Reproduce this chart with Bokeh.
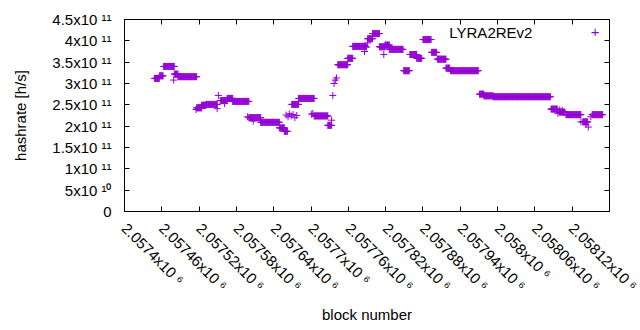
import math
import numpy as np
from bokeh.plotting import figure
from bokeh.models import (Range1d, FixedTicker, LinearAxis, Label,
                          ColumnDataSource, CustomJSTickFormatter)
from bokeh.embed import file_html
from bokeh.resources import INLINE

# ---- data (hashrate in units of 1e11 h/s) ----
# runs of consecutive blocks sharing the same hashrate estimate
run_start = [2057448, 2057456, 2057463, 2057480, 2057486, 2057516, 2057524, 2057531,
             2057554, 2057565, 2057574, 2057600, 2057619, 2057649, 2057657, 2057669,
             2057680, 2057705, 2057727, 2057743, 2057759, 2057767, 2057791, 2057799,
             2057810, 2057819, 2057826, 2057849, 2057859, 2057870, 2057880, 2057894,
             2057903, 2057917, 2057924, 2057971, 2057978, 2057993, 2058086, 2058099,
             2058110, 2058137, 2058152]
run_end = [2057456, 2057462, 2057480, 2057486, 2057516, 2057524, 2057531, 2057549,
           2057565, 2057574, 2057600, 2057619, 2057649, 2057657, 2057662, 2057680,
           2057705, 2057727, 2057733, 2057759, 2057767, 2057788, 2057799, 2057810,
           2057819, 2057826, 2057848, 2057858, 2057870, 2057878, 2057893, 2057902,
           2057917, 2057923, 2057969, 2057978, 2057993, 2058085, 2058096, 2058108,
           2058134, 2058145, 2058169]
run_hashrate = [3.12, 3.18, 3.40, 3.22, 3.16, 2.43, 2.49, 2.51,
                2.60, 2.65, 2.58, 2.20, 2.09, 1.96, 1.88, 2.51,
                2.65, 2.24, 2.02, 3.44, 3.59, 3.87, 4.05, 4.17,
                3.86, 3.90, 3.80, 3.30, 3.68, 3.59, 4.03, 3.73,
                3.57, 3.36, 3.30, 2.75, 2.71, 2.69, 2.40, 2.33,
                2.27, 2.10, 2.27]

# individual blocks
point_block = [2057479, 2057515, 2057549, 2057551, 2057561, 2057598, 2057607,
               2057660, 2057663, 2057665, 2057668, 2057671, 2057674, 2057677,
               2057701, 2057703, 2057733, 2057735, 2057737, 2057739, 2057741,
               2057786, 2057789, 2057791, 2057817, 2058097, 2058100, 2058104,
               2058134, 2058142, 2058146, 2058150]
point_hashrate = [3.08, 2.39, 2.41, 2.72, 2.53, 2.22, 2.12,
                  2.26, 2.22, 2.29, 2.24, 2.27, 2.20, 2.25,
                  2.28, 2.30, 2.14, 2.72, 3.00, 3.08, 3.13,
                  3.75, 3.85, 3.95, 3.68, 2.30, 2.38, 2.37,
                  2.10, 2.04, 1.98, 2.22]

series_name = "LYRA2REv2"

x_ticks = [2057400, 2057460, 2057520, 2057580, 2057640, 2057700, 2057760,
           2057820, 2057880, 2057940, 2058000, 2058060, 2058120, 2058180]
x_tick_labels = ["2.0574x10 \u2076", "2.05746x10 \u2076", "2.05752x10 \u2076",
                 "2.05758x10 \u2076", "2.05764x10 \u2076", "2.0577x10 \u2076",
                 "2.05776x10 \u2076", "2.05782x10 \u2076", "2.05788x10 \u2076",
                 "2.05794x10 \u2076", "2.058x10 \u2076", "2.05806x10 \u2076",
                 "2.05812x10 \u2076", "2.05818x10 \u2076"]
y_ticks = [0, 5e10, 1e11, 1.5e11, 2e11, 2.5e11, 3e11, 3.5e11, 4e11, 4.5e11]
y_tick_labels = ["0", "5x10 \u00b9\u2070", "1x10 \u00b9\u00b9", "1.5x10 \u00b9\u00b9",
                 "2x10 \u00b9\u00b9", "2.5x10 \u00b9\u00b9", "3x10 \u00b9\u00b9",
                 "3.5x10 \u00b9\u00b9", "4x10 \u00b9\u00b9", "4.5x10 \u00b9\u00b9"]

# ---- build the point table ----
xs, ys = [], []
for s, e, v in zip(run_start, run_end, run_hashrate):
    for b in range(s, e + 1):
        xs.append(b)
        ys.append(v * 1e11)
for b, v in zip(point_block, point_hashrate):
    xs.append(b)
    ys.append(v * 1e11)
src = ColumnDataSource(dict(block=xs, hashrate=ys))

FONT = "Liberation Sans"
FS = "15px"
COLOR = "#9400D3"
XSTAND = 14

p = figure(width=640, height=330, output_backend="svg", toolbar_location=None,
           x_range=Range1d(x_ticks[0], x_ticks[-1]), y_range=Range1d(y_ticks[0], y_ticks[-1]),
           min_border_left=124, min_border_right=31, min_border_top=19, min_border_bottom=119)
p.xgrid.visible = False
p.ygrid.visible = False
p.outline_line_color = "black"
p.outline_line_width = 1
p.background_fill_color = "white"
p.border_fill_color = "white"

p.scatter("block", "hashrate", source=src, marker="cross", size=7,
          line_color=COLOR, line_width=1)


def style(ax):
    ax.major_tick_in = 5
    ax.major_tick_out = 0
    ax.minor_tick_line_color = None
    ax.axis_line_color = "black"
    ax.major_tick_line_color = "black"
    ax.major_label_text_font = FONT
    ax.major_label_text_font_size = FS
    ax.major_label_text_color = "black"
    ax.axis_label_text_font = FONT
    ax.axis_label_text_font_size = FS
    ax.axis_label_text_font_style = "normal"
    ax.axis_label_text_color = "black"


blank = CustomJSTickFormatter(code="return ''")

# bottom axis: the tick at the right frame edge gets its label from an annotation
# below, so that it is cut by the page edge as in the original instead of shifted
xa = p.xaxis[0]
xa.ticker = FixedTicker(ticks=x_ticks[:-1])
xa.major_label_overrides = dict(zip(x_ticks[:-1], x_tick_labels[:-1]))
xa.major_label_orientation = -math.pi / 4
xa.axis_label = "block number"
style(xa)
xa.major_label_standoff = XSTAND
xa.axis_label_standoff = 3

p.add_layout(Label(x=x_ticks[-1], y=y_ticks[0], y_offset=-XSTAND, angle=-math.pi / 4,
                   text=x_tick_labels[-1], text_align="left", text_baseline="middle",
                   text_font=FONT, text_font_size=FS, text_color="black"))

ya = p.yaxis[0]
ya.ticker = FixedTicker(ticks=y_ticks)
ya.major_label_overrides = dict(zip(y_ticks, y_tick_labels))
ya.axis_label = "hashrate [h/s]"
style(ya)
ya.major_label_standoff = 13
ya.axis_label_standoff = 20

# mirrored tick marks on the top and right sides (no labels)
top = LinearAxis(ticker=FixedTicker(ticks=x_ticks), formatter=blank)
style(top)
top.major_label_standoff = 0
top.major_label_text_font_size = "8px"
p.add_layout(top, "above")
right = LinearAxis(ticker=FixedTicker(ticks=y_ticks), formatter=blank)
style(right)
right.major_label_standoff = 0
right.major_label_text_font_size = "8px"
p.add_layout(right, "right")

# key (text then sample, as in the original)
p.add_layout(Label(x=2058056, y=4.20e11, text=series_name, text_align="right",
                   text_baseline="middle", text_font=FONT, text_font_size=FS,
                   text_color="black"))
p.add_layout(Label(x=2058157, y=4.20e11, text="+", text_align="center",
                   text_baseline="middle", text_font=FONT, text_font_size=FS,
                   text_color=COLOR))

open("out.html", "w").write(file_html(p, INLINE))
